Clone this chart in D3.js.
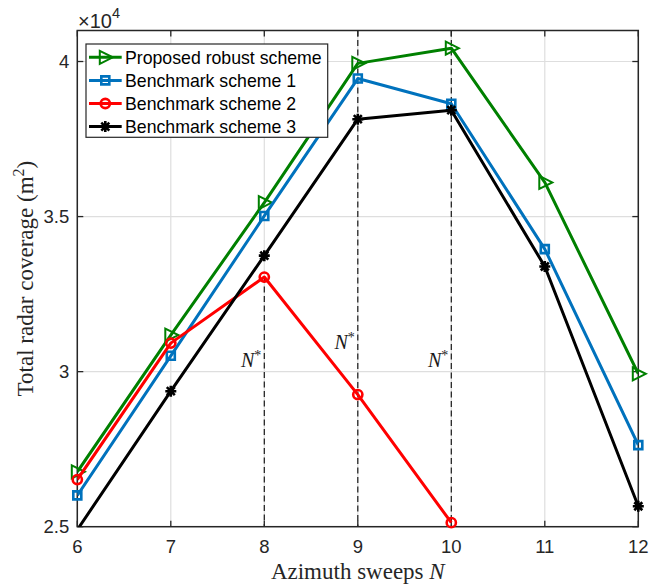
<!DOCTYPE html>
<html><head><meta charset="utf-8">
<script src="https://cdn.jsdelivr.net/npm/d3@7"></script>
<style>
html,body{margin:0;padding:0;background:#fff;}
svg{display:block;}
</style></head>
<body>
<svg id="chart" width="650" height="586"></svg>
<script>
// ---- data ----
const sweeps = [6, 7, 8, 9, 10, 11, 12];
const proposed = [26770, 31180, 35450, 39940, 40430, 36100, 29930];
const bench1   = [26010, 30510, 35020, 39450, 38640, 33950, 27630];
const bench2Sweeps = [6, 7, 8, 9, 10];
const bench2   = [26520, 30920, 33050, 29260, 25130];
const bench3   = [24900, 29370, 33740, 38140, 38430, 33390, 25660];
const seriesNames = ["Proposed robust scheme", "Benchmark scheme 1", "Benchmark scheme 2", "Benchmark scheme 3"];
const xTicks = [6, 7, 8, 9, 10, 11, 12];
const yTicks = [25000, 30000, 35000, 40000];
const yTickLabels = ["2.5", "3", "3.5", "4"];
const optSweeps = [8, 9, 10];
const optDashTop = [33050, 41000, 41000];
const optLabelY = [30140, 30730, 30140];

// ---- layout ----
const L = 77.3, R = 638.3, T = 30.5, B = 526.7;
const x = d3.scaleLinear().domain([6, 12]).range([L, R]);
const y = d3.scaleLinear().domain([25000, 41000]).range([B, T]);
const axisCol = "#262626";
const svg = d3.select("#chart");

svg.append("defs").append("clipPath").attr("id", "plotclip")
  .append("rect").attr("x", L).attr("y", T).attr("width", R - L).attr("height", B - T);

// grid
const grid = svg.append("g");
grid.selectAll("line.gx").data(xTicks).enter().append("line")
  .attr("x1", d => x(d)).attr("x2", d => x(d)).attr("y1", T).attr("y2", B)
  .attr("stroke", "#dedede").attr("stroke-width", 1.2);
grid.selectAll("line.gy").data(yTicks).enter().append("line")
  .attr("y1", d => y(d)).attr("y2", d => y(d)).attr("x1", L).attr("x2", R)
  .attr("stroke", "#dedede").attr("stroke-width", 1.2);

// dashed optimum lines
svg.append("g").selectAll("line").data(optSweeps).enter().append("line")
  .attr("x1", d => x(d)).attr("x2", d => x(d))
  .attr("y1", (d, i) => y(optDashTop[i])).attr("y2", B)
  .attr("stroke", "#1a1a1a").attr("stroke-width", 1.2).attr("stroke-dasharray", "6,3.5");

// N* labels
const nl = svg.append("g").attr("font-family", "'Liberation Serif', 'Times New Roman', serif").attr("fill", "#1a1a1a");
optSweeps.forEach((s, i) => {
  const t = nl.append("text").attr("x", x(s) - 3).attr("y", y(optLabelY[i]))
    .attr("text-anchor", "end").attr("font-size", 20);
  t.append("tspan").attr("font-style", "italic").text("N");
  t.append("tspan").attr("font-size", 14).attr("dy", -7).text("*");
});

// axes box
svg.append("rect").attr("x", L).attr("y", T).attr("width", R - L).attr("height", B - T)
  .attr("fill", "none").attr("stroke", axisCol).attr("stroke-width", 1.5);

// ticks (inward, all four sides)
const tk = svg.append("g").attr("stroke", axisCol).attr("stroke-width", 1.3);
xTicks.forEach(d => {
  tk.append("line").attr("x1", x(d)).attr("x2", x(d)).attr("y1", B).attr("y2", B - 6);
  tk.append("line").attr("x1", x(d)).attr("x2", x(d)).attr("y1", T).attr("y2", T + 6);
});
yTicks.forEach(d => {
  tk.append("line").attr("y1", y(d)).attr("y2", y(d)).attr("x1", L).attr("x2", L + 6);
  tk.append("line").attr("y1", y(d)).attr("y2", y(d)).attr("x1", R).attr("x2", R - 6);
});

// tick labels
const tl = svg.append("g").attr("font-family", "'Liberation Sans', Arial, sans-serif").attr("font-size", 18.5).attr("fill", axisCol);
tl.selectAll("text.xt").data(xTicks).enter().append("text")
  .attr("x", d => x(d)).attr("y", B + 26).attr("text-anchor", "middle").text(d => d);
tl.selectAll("text.yt").data(yTicks).enter().append("text")
  .attr("x", L - 8).attr("y", d => y(d) + 6.5).attr("text-anchor", "end").text((d, i) => yTickLabels[i]);
// exponent
const ex = tl.append("text").attr("x", 78).attr("y", 27.5).attr("font-size", 20);
ex.append("tspan").text("\u00d710");
ex.append("tspan").attr("font-size", 14.5).attr("dy", -10).text("4");

// axis labels
const lab = svg.append("g").attr("font-family", "'Liberation Serif', 'Times New Roman', serif").attr("font-size", 23).attr("fill", axisCol);
const xl = lab.append("text").attr("x", (L + R) / 2).attr("y", 578.5).attr("text-anchor", "middle");
xl.append("tspan").text("Azimuth sweeps ");
xl.append("tspan").attr("font-style", "italic").text("N");
const yl = lab.append("text").attr("transform", `translate(33,${(T + B) / 2}) rotate(-90)`).attr("text-anchor", "middle");
yl.append("tspan").text("Total radar coverage (m");
yl.append("tspan").attr("font-size", 16).attr("dy", -9).text("2");
yl.append("tspan").attr("dy", 9).text(")");

// markers
const markers = {
  tri: "M-5.5,-6.5L7.5,0L-5.5,6.5Z",
  sq: "M-4,-4H4V4H-4Z",
  circ: d3.symbol().type(d3.symbolCircle).size(Math.PI * 4.6 * 4.6)(),
  star: "M-5.5,0H5.5M0,-5.5V5.5M-4,-4L4,4M-4,4L4,-4"
};
const series = [
  {xs: sweeps, ys: proposed, color: "#008000", m: "tri", sw: 2},
  {xs: sweeps, ys: bench1, color: "#0072BD", m: "sq", sw: 2.6},
  {xs: bench2Sweeps, ys: bench2, color: "#FF0000", m: "circ", sw: 2.6},
  {xs: sweeps, ys: bench3, color: "#000000", m: "star", sw: 2.6}
];
const line = d3.line().x(d => x(d[0])).y(d => y(d[1]));
const [y0, y1] = y.domain();
series.forEach(s => {
  const pts = s.xs.map((v, i) => [v, s.ys[i]]);
  svg.append("path").attr("d", line(pts)).attr("fill", "none")
    .attr("stroke", s.color).attr("stroke-width", 3).attr("stroke-linejoin", "round")
    .attr("clip-path", "url(#plotclip)");
  svg.append("g").selectAll("path").data(pts.filter(p => p[1] >= y0 && p[1] <= y1)).enter().append("path")
    .attr("transform", p => `translate(${x(p[0])},${y(p[1])})`)
    .attr("d", markers[s.m]).attr("fill", "none").attr("stroke", s.color)
    .attr("stroke-width", s.sw).attr("stroke-linejoin", "miter");
});

// legend
const lg = svg.append("g");
lg.append("rect").attr("x", 86).attr("y", 44).attr("width", 241.7).attr("height", 93.3)
  .attr("fill", "#fff").attr("stroke", axisCol).attr("stroke-width", 1.2);
series.forEach((s, i) => {
  const cy = 57.3 + i * 23.1;
  lg.append("line").attr("x1", 89).attr("x2", 121.7).attr("y1", cy).attr("y2", cy)
    .attr("stroke", s.color).attr("stroke-width", 3);
  lg.append("path").attr("transform", `translate(105.3,${cy})`).attr("d", markers[s.m])
    .attr("fill", "none").attr("stroke", s.color).attr("stroke-width", s.sw);
  lg.append("text").attr("x", 125).attr("y", cy + 6.3)
    .attr("font-family", "'Liberation Sans', Arial, sans-serif").attr("font-size", 17.7)
    .attr("fill", "#000").text(seriesNames[i]);
});
</script>
</body></html>
